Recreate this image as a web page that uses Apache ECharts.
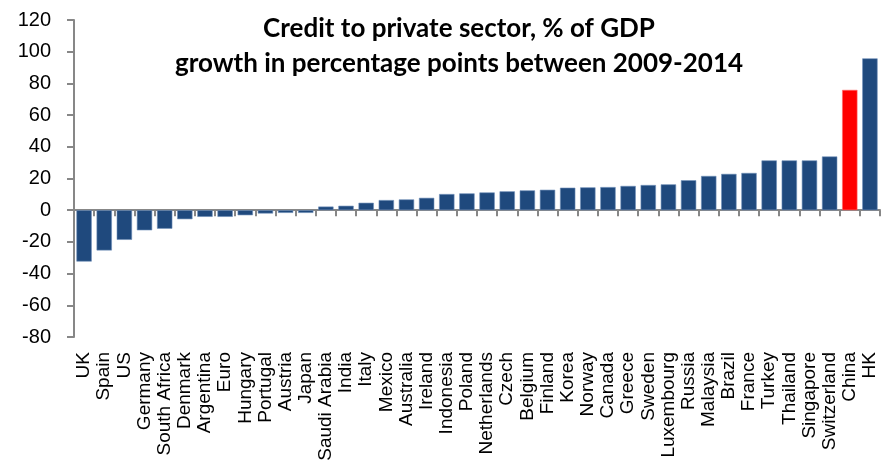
<!DOCTYPE html>
<html>
<head>
<meta charset="utf-8">
<script src="https://cdn.jsdelivr.net/npm/echarts@6/dist/echarts.min.js"></script>
<style>
  html, body { margin: 0; padding: 0; background: #fff; }
  #chart { width: 894px; height: 462px; }
</style>
</head>
<body>
<div id="chart"></div>
<script>
// categories and values
var countries = ['UK', 'Spain', 'US', 'Germany', 'South Africa', 'Denmark', 'Argentina', 'Euro',
  'Hungary', 'Portugal', 'Austria', 'Japan', 'Saudi Arabia', 'India', 'Italy', 'Mexico',
  'Australia', 'Ireland', 'Indonesia', 'Poland', 'Netherlands', 'Czech', 'Belgium', 'Finland',
  'Korea', 'Norway', 'Canada', 'Greece', 'Sweden', 'Luxembourg', 'Russia', 'Malaysia', 'Brazil',
  'France', 'Turkey', 'Thailand', 'Singapore', 'Switzerland', 'China', 'HK'];
var growth = [-32.4, -25.4, -18.7, -12.7, -11.7, -5.7, -4.2, -4.2,
  -3.2, -2.1, -1.7, -1.7, 2.3, 2.8, 4.7, 6.4,
  6.8, 7.8, 10.2, 10.6, 11.2, 11.9, 12.5, 12.9,
  14.2, 14.4, 14.6, 15.3, 15.9, 16.3, 18.9, 21.6, 22.9,
  23.5, 31.4, 31.4, 31.4, 33.9, 75.9, 95.8];
var highlighted = ['China'];
var yTicks = [-80, -60, -40, -20, 0, 20, 40, 60, 80, 100, 120];

var axisGrey = '#878787';

var barData = [];
for (var i = 0; i < countries.length; i++) {
  var isHl = highlighted.indexOf(countries[i]) >= 0;
  barData.push({
    value: growth[i],
    itemStyle: isHl ? { color: '#ff0000', borderColor: '#ff6b6b', borderWidth: 0.6 }
                    : { color: '#1f497d', borderColor: '#6f8fb8', borderWidth: 0.6 }
  });
}

var myChart = echarts.init(document.getElementById('chart'));

var option = {
  animation: false,
  backgroundColor: '#fff',
  title: {
    text: 'Credit to private sector, % of GDP\ngrowth in percentage points between 2009-2014',
    left: 454,
    textAlign: 'center',
    top: 6,
    textStyle: {
      fontFamily: 'Lato',
      fontWeight: 'bold',
      fontSize: 26,
      lineHeight: 35,
      color: '#000'
    }
  },
  grid: { left: 74, right: 14, top: 20, bottom: 125, containLabel: false, outerBoundsMode: 'none' },
  xAxis: {
    type: 'category',
    data: countries,
    // line at zero, ticks between categories; labels stay under the plot
    axisLine: { onZero: true, lineStyle: { color: axisGrey, width: 2 } },
    axisTick: { show: true, interval: 0, length: 6, lineStyle: { color: axisGrey, width: 2 } },
    axisLabel: {
      interval: 0,
      rotate: 90,
      margin: 15,
      fontFamily: 'Liberation Sans, Arial',
      fontSize: 19,
      color: '#000'
    }
  },
  yAxis: {
    type: 'value',
    min: -80,
    max: 120,
    interval: 20,
    splitLine: { show: false },
    axisLine: { show: true, lineStyle: { color: axisGrey, width: 2 } },
    axisTick: { show: true, length: 7, lineStyle: { color: axisGrey, width: 2 } },
    axisLabel: {
      margin: 23,
      fontFamily: 'Liberation Sans, Arial',
      fontSize: 20,
      color: '#000',
      formatter: function (v) { return yTicks.indexOf(v) >= 0 ? String(v) : ''; }
    }
  },
  series: [{
    type: 'bar',
    data: barData,
    barCategoryGap: '24%'
  }]
};

myChart.setOption(option);
</script>
</body>
</html>
